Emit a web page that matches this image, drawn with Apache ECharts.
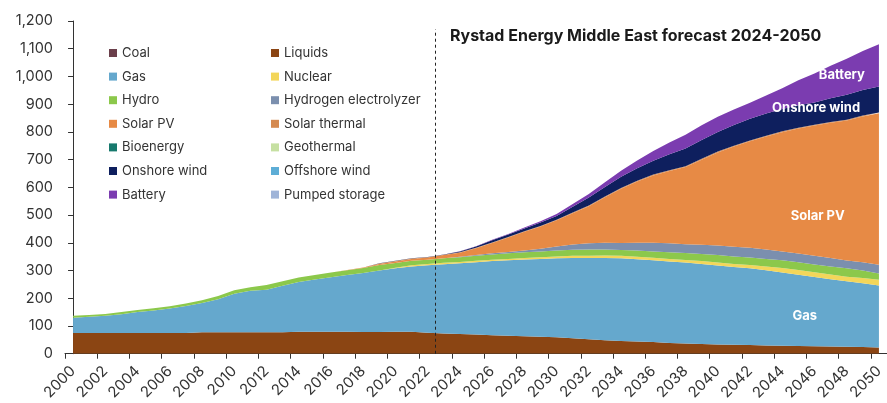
<!DOCTYPE html>
<html>
<head>
<meta charset="utf-8">
<script src="https://cdn.jsdelivr.net/npm/echarts@6/dist/echarts.min.js"></script>
<style>
html,body{margin:0;padding:0;background:#fff;}
#chart{width:887px;height:403px;}
</style>
</head>
<body>
<div id="chart"></div>
<script>
const years = ['2000','2001','2002','2003','2004','2005','2006','2007','2008','2009','2010','2011','2012','2013','2014','2015','2016','2017','2018','2019','2020','2021','2022','2023','2024','2025','2026','2027','2028','2029','2030','2031','2032','2033','2034','2035','2036','2037','2038','2039','2040','2041','2042','2043','2044','2045','2046','2047','2048','2049','2050'];

const coal = [0,0,0,0,0,0,0,0,0,0, 0,0,0,0,0,0,0,0,0,0, 0,0,0,0,0,0,0,0,0,0, 0,0,0,0,0,0,0,0,0,0, 0,0,0,0,0,0,0,0,0,0, 0];
const liquids = [75,75,75,75,75,75,75,75,77,77, 77,77,77,77,79,79,79,79,78,78, 79,79,76,73,71,69,67,65,63,61, 59,56,52,49,46,44,42,39,37,35, 33,32,31,30,29,28,27,26,25,24, 22];
const gas = [55,58,62,67,75,81,88,97,106,119, 139,150,154,168,180,189,197,205,213,222, 229,236,243,250,255,261,267,272,277,281, 285,289,293,296,298,297,295,294,292,289, 285,281,277,271,264,257,250,243,236,230, 224];
const nuclear = [0,0,0,0,0,0,0,0,0,0, 0,0,0,0,0,0,0,0,0,0, 2,4,5,5,5,5,5,5,5,6, 7,8,8,9,9,9,9,9,9,10, 11,11,12,14,16,17,17,17,17,19, 21];
const hydro = [7,7,6,8,8,8,8,9,10,12, 13,13,17,16,16,16,17,17,18,20, 17,16,15,16,17,18,19,20,21,21, 21,22,23,22,21,22,23,24,25,26, 27,27,27,27,28,28,28,29,30,27, 22];
const hydrogen = [0,0,0,0,0,0,0,0,0,0, 0,0,0,0,0,0,0,0,0,0, 0,0,0,0,2,3,4,5,6,10, 15,19,22,24,25,28,31,32,32,33, 34,35,35,34,32,31,31,30,28,30, 32];
const solarPV = [0,0,0,0,0,0,0,0,0,0, 0,0,0,0,0,0,0,1,2,4, 6,7,8,12,14,24,37,52,68,80, 94,113,134,164,196,221,243,261,278,307, 336,361,384,407,430,451,470,488,505,526, 546];
const solarThermal = [0,0,0,0,0,0,0,0,0,0, 0,0,0,0,0,0,0,0,0,1, 1,1,1,1,2,2,2,2,2,2, 2,2,3,3,3,3,3,3,3,3, 3,3,3,3,3,3,3,3,3,3, 3];
const bioenergy = [0,0,0,0,0,0,0,0,0,0, 0,0,0,0,0,0,0,0,0,0, 0,0,0,0,0,0,0,0,0,0, 0,0,0,0,0,0,0,0,0,0, 0,0,0,0,0,0,0,0,0,0, 0];
const geothermal = [0,0,0,0,0,0,0,0,0,0, 0,0,0,0,0,0,0,0,0,0, 0,0,0,0,0,0,0,0,0,0, 0,0,0,0,0,0,0,0,0,0, 0,0,0,0,0,0,0,0,0,0, 0];
const onshoreWind = [0,0,0,0,0,0,0,0,0,0, 0,0,0,0,0,0,0,0,0,1, 1,1,1,1,3,5,8,9,10,12, 14,21,28,34,40,45,50,57,64,68, 71,75,78,80,81,81,80,85,90,92, 94];
const offshoreWind = [0,0,0,0,0,0,0,0,0,0, 0,0,0,0,0,0,0,0,0,0, 0,0,0,0,0,0,0,0,0,0, 0,0,0,0,0,0,0,0,0,0, 0,0,0,0,0,0,0,0,0,0, 0];
const battery = [0,0,0,0,0,0,0,0,0,0, 0,0,0,0,0,0,0,0,0,0, 0,0,0,0,1,1,2,2,3,5, 7,10,13,17,22,28,35,43,50,53, 55,56,58,65,74,90,105,118,130,141, 152];
const pumpedStorage = [0,0,0,0,0,0,0,0,0,0, 0,0,0,0,0,0,0,0,0,0, 0,0,0,0,0,0,0,0,0,0, 0,0,0,0,0,0,0,0,0,0, 0,0,0,0,0,0,0,0,0,0, 0];

const yTicks = [0,100,200,300,400,500,600,700,800,900,1000,1100,1200];
const titleText = 'Rystad Energy Middle East forecast 2024-2050';

// series definitions (stack order bottom to top)
const seriesDefs = [
  ['Coal', coal, '#6B3F4B'],
  ['Liquids', liquids, '#8B4513'],
  ['Gas', gas, '#65A8CD'],
  ['Nuclear', nuclear, '#F3D65A'],
  ['Hydro', hydro, '#8CC84B'],
  ['Hydrogen electrolyzer', hydrogen, '#7B8FAE'],
  ['Solar PV', solarPV, '#E78A45'],
  ['Solar thermal', solarThermal, '#D58A50'],
  ['Bioenergy', bioenergy, '#17796D'],
  ['Geothermal', geothermal, '#C6E0A2'],
  ['Onshore wind', onshoreWind, '#0E1F5E'],
  ['Offshore wind', offshoreWind, '#5DADD6'],
  ['Battery', battery, '#7B3CB0'],
  ['Pumped storage', pumpedStorage, '#9FB4D8']
];
const leftLegend = ['Coal','Gas','Hydro','Solar PV','Bioenergy','Onshore wind','Battery'];
const rightLegend = ['Liquids','Nuclear','Hydrogen electrolyzer','Solar thermal','Geothermal','Offshore wind','Pumped storage'];

// in-chart labels: [text, x (year index), y value]
const areaLabels = [
  ['Gas', 45.4, 134],
  ['Solar PV', 46.2, 495],
  ['Onshore wind', 46.1, 887],
  ['Battery', 47.7, 1006]
];
const forecastStart = 22.5;

const FONT = 'Inter, Roboto, "Noto Sans", sans-serif';

const series = seriesDefs.map(([name, data, color]) => ({
  name, type: 'line', stack: 'total', data,
  symbol: 'none', showSymbol: false,
  lineStyle: { width: 0, color },
  itemStyle: { color },
  areaStyle: { color, opacity: 1 },
  emphasis: { disabled: true },
  animation: false
}));

series.push({
  name: '_marks', type: 'line', xAxisIndex: 1, yAxisIndex: 0, data: [],
  silent: true, animation: false,
  markLine: {
    silent: true, symbol: ['none','none'], animation: false,
    label: { show: false },
    lineStyle: { type: [3,3], color: '#222', width: 1 },
    data: [[{ coord: [forecastStart, 0] }, { coord: [forecastStart, 1170] }]]
  },
  markPoint: {
    silent: true, animation: false,
    symbol: 'circle', symbolSize: 1,
    itemStyle: { color: 'rgba(0,0,0,0)' },
    label: { show: true, position: 'inside', color: '#fff', fontWeight: 'bold', fontSize: 13, fontFamily: FONT },
    data: areaLabels.map(([t, x, y]) => ({ coord: [x, y], value: t, label: { formatter: t } }))
  }
});

const legendCommon = {
  orient: 'vertical', icon: 'rect', itemWidth: 8, itemHeight: 8, itemGap: 7.6,
  top: 40, selectedMode: false,
  textStyle: { fontSize: 13, color: '#333', fontFamily: FONT, lineHeight: 16 }
};

const option = {
  animation: false,
  textStyle: { fontFamily: FONT },
  title: {
    text: titleText, left: 445, top: 23,
    textStyle: { fontSize: 16, fontWeight: 'bold', color: '#1a1a1a', fontFamily: FONT }
  },
  legend: [
    Object.assign({ left: 104, data: leftLegend }, legendCommon),
    Object.assign({ left: 266, data: rightLegend }, legendCommon)
  ],
  grid: { left: 65, top: 21, bottom: 49, width: 831, containLabel: false },
  xAxis: [{
    type: 'category', data: years, boundaryGap: true,
    axisLine: { show: true, lineStyle: { color: '#333', width: 1 } },
    axisTick: { show: true, interval: 1, length: 5, lineStyle: { color: '#333' } },
    axisLabel: { interval: 1, rotate: 45, fontSize: 15, color: '#333', margin: 15, fontFamily: FONT },
    splitLine: { show: false }
  }, {
    type: 'value', min: -0.5, max: 50.5, show: false
  }],
  yAxis: {
    type: 'value', min: yTicks[0], max: yTicks[yTicks.length - 1], interval: 100,
    axisLine: { show: true, lineStyle: { color: '#333', width: 1 } },
    axisTick: { show: true, length: 5, lineStyle: { color: '#333' } },
    axisLabel: { fontSize: 14.5, color: '#333', margin: 12, fontFamily: FONT,
      formatter: v => v.toLocaleString('en-US') },
    splitLine: { show: false }
  },
  series
};

const chart = echarts.init(document.getElementById('chart'), null, { renderer: 'canvas' });
chart.setOption(option);
</script>
</body>
</html>
